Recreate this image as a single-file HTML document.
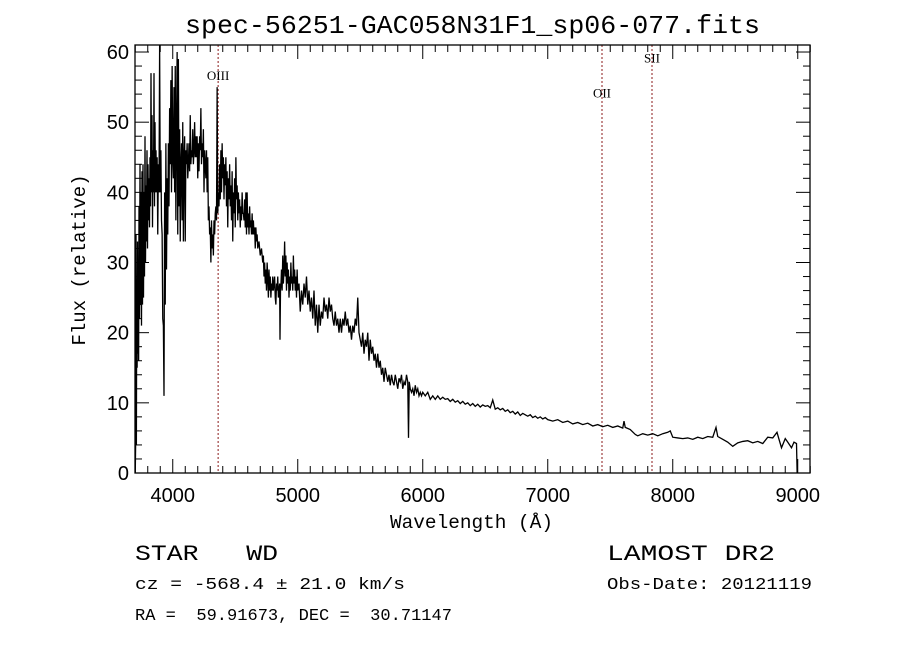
<!DOCTYPE html>
<html><head><meta charset="utf-8"><style>
body{margin:0;background:#fff}
svg{display:block}
text{white-space:pre}
.t{font-family:"Liberation Mono",monospace;fill:#000}
.s{font-family:"Liberation Sans",sans-serif;fill:#000}
.r{font-family:"Liberation Serif",serif;fill:#000}
</style></head><body>
<svg id="chart" width="900" height="649" xmlns="http://www.w3.org/2000/svg" xml:space="preserve">
<rect width="900" height="649" fill="#fff"/>
<text class="t" x="185" y="33" font-size="26" textLength="575" lengthAdjust="spacingAndGlyphs">spec-56251-GAC058N31F1_sp06-077.fits</text>
<g id="lines"></g>
<g id="axes"></g>
<path id="spec" fill="none" stroke="#000" stroke-width="1.3"/>
<rect x="135" y="45" width="675" height="428" fill="none" stroke="#000" stroke-width="1.3"/>
<text class="t" x="390" y="528" font-size="19" textLength="163" lengthAdjust="spacingAndGlyphs">Wavelength (Å)</text>
<text class="t" transform="translate(85,260) rotate(-90)" font-size="19" text-anchor="middle">Flux (relative)</text>
<text class="t" x="135" y="560" font-size="22" textLength="143" lengthAdjust="spacingAndGlyphs">STAR   WD</text>
<text class="t" x="607" y="560" font-size="22" textLength="168" lengthAdjust="spacingAndGlyphs">LAMOST DR2</text>
<text class="t" x="135" y="589" font-size="17" textLength="270" lengthAdjust="spacingAndGlyphs">cz = -568.4 ± 21.0 km/s</text>
<text class="t" x="607" y="589" font-size="17" textLength="205" lengthAdjust="spacingAndGlyphs">Obs-Date: 20121119</text>
<text class="t" x="135" y="620" font-size="17" textLength="317" lengthAdjust="spacingAndGlyphs">RA =  59.91673, DEC =  30.71147</text>
</svg>
<script>
const waves=[3700,3703,3706,3709,3712,3715,3718,3721,3724,3727,3730,3734,3738,3742,3746,3750,3754,3758,3762,3766,3770,3774,3778,3782,3786,3790,3794,3798,3802,3806,3810,3814,3818,3822,3826,3830,3834,3838,3842,3846,3850,3854,3858,3862,3866,3870,3875,3880,3885,3890,3895,3900,3905,3910,3915,3920,3925,3930,3935,3940,3945,3950,3955,3960,3965,3970,3975,3980,3985,3990,3995,4000,4005,4010,4015,4020,4025,4030,4035,4040,4045,4050,4055,4060,4065,4070,4075,4080,4085,4090,4095,4100,4105,4110,4115,4120,4125,4130,4135,4140,4145,4150,4155,4160,4165,4170,4175,4180,4185,4190,4195,4200,4205,4210,4215,4220,4225,4230,4235,4240,4245,4250,4255,4260,4265,4270,4275,4280,4285,4290,4295,4300,4305,4310,4315,4320,4325,4330,4335,4340,4345,4350,4355,4360,4365,4370,4375,4380,4385,4390,4395,4400,4405,4410,4415,4420,4425,4430,4435,4440,4445,4450,4455,4460,4465,4470,4475,4480,4485,4490,4495,4500,4505,4510,4515,4520,4525,4530,4535,4540,4545,4550,4555,4560,4565,4570,4575,4580,4585,4590,4595,4600,4605,4610,4615,4620,4625,4630,4635,4640,4645,4650,4655,4660,4665,4670,4675,4680,4690,4700,4710,4720,4725,4730,4735,4740,4745,4750,4755,4760,4765,4770,4775,4780,4785,4790,4795,4800,4805,4810,4815,4820,4825,4830,4835,4840,4845,4850,4855,4858,4862,4866,4870,4875,4880,4885,4890,4895,4900,4905,4910,4915,4920,4925,4930,4935,4940,4945,4950,4955,4960,4965,4970,4975,4980,4985,4990,4995,5000,5010,5020,5030,5040,5050,5060,5070,5080,5090,5100,5110,5120,5130,5140,5150,5160,5170,5180,5190,5200,5210,5220,5230,5240,5250,5260,5270,5280,5290,5300,5310,5320,5330,5340,5350,5360,5370,5380,5390,5400,5410,5420,5430,5440,5450,5460,5470,5480,5490,5500,5510,5520,5530,5540,5550,5560,5570,5580,5590,5600,5610,5620,5630,5640,5650,5660,5670,5680,5690,5700,5710,5720,5730,5740,5750,5760,5770,5780,5790,5800,5810,5820,5830,5840,5850,5860,5870,5880,5886,5892,5900,5910,5920,5930,5940,5950,5960,5970,5980,5990,6000,6020,6040,6060,6080,6100,6120,6140,6160,6180,6200,6220,6240,6260,6280,6300,6320,6340,6360,6380,6400,6420,6440,6460,6480,6500,6520,6540,6560,6580,6600,6620,6640,6660,6680,6700,6720,6740,6760,6780,6800,6820,6840,6860,6880,6900,6920,6940,6960,6980,7000,7040,7080,7120,7160,7200,7240,7280,7320,7360,7400,7440,7480,7520,7560,7600,7610,7620,7660,7700,7720,7760,7800,7840,7880,7920,7960,7980,8000,8040,8080,8120,8160,8200,8240,8280,8320,8346,8360,8400,8440,8480,8520,8560,8600,8640,8680,8720,8760,8800,8834,8850,8870,8900,8920,8950,8970,8990,8995];
const flux=[0,4,34,4,27,15,33,17,26,16,38,22,44,24,40,21,43,24,44,25,40,28,48,30,41,33,46,32,44,36,42,35,45,38,57,40,51,35,46,40,57,38,50,40,46,40,45,34,44,40,61,40,46,36,34,22,21,11,40,24,47,29,42,34,47,38,52,44,56,40,58,45,42,55,40,58,36,49,60,34,59,38,49,33,44,47,36,50,33,45,48,33,46,44,47,42,44,47,43,51,44,46,45,49,44,46,50,45,48,45,48,42,47,43,48,46,52,44,47,45,49,40,46,44,42,46,40,45,36,38,34,35,30,36,32,34,31,36,34,37,38,36,55,37,40,38,44,39,46,40,47,42,45,39,44,41,45,38,43,35,42,39,44,38,41,36,43,33,40,37,42,35,45,39,41,36,40,37,39,35,38,36,40,37,37,36,39,35,40,34,40,35,37,34,38,35,36,34,37,34,36,34,35,32,35,33,34,32,33,31,32,30,31,28,30,27,29,26,30,28,25,29,26,28,25,27,26,28,26,27,28,25,24,27,26,28,25,26,27,19,26,27,29,26,31,27,29,33,28,31,26,30,27,29,25,28,26,30,27,28,26,31,27,29,26,28,25,29,26,27,23,26,24,27,25,28,24,26,23,25,22,26,21,24,20,24,21,23,22,25,23,24,22,25,23,24,22,21,23,21,22,20,22,20,22,21,23,21,22,20,21,19,21,20,22,21,25,20,19,18,20,17,19,18,20,16,19,17,18,16,17,15,17,15,16,14,15,13,15,14,13,14,12.5,14,13,12.5,14,13,12,13.5,13,14,12,13,12.5,14,13,5,13,12,11.5,12,11,12.5,11.5,12,11,11.5,11,11.5,11,11.5,10.5,11,10.5,11,10.5,10.8,10.5,10.6,10.2,10.5,10.1,10.3,9.9,10.2,9.8,10,9.6,9.9,9.5,9.8,9.4,9.7,9.5,9.6,9.3,10.4,9.1,9.3,9,9.2,8.8,9,8.6,8.8,8.4,8.7,8.2,8.5,8.3,8.1,8.3,7.9,8.1,7.8,8,7.7,7.9,7.6,7.4,7.6,7.2,7.4,7,7.2,6.9,7.1,6.7,6.9,6.6,6.8,6.5,6.7,6.4,7.4,6.5,6.2,5.5,5.3,5.6,5.4,5.6,5.3,5.6,5.8,6,5.1,5,4.9,5,4.8,5.1,4.9,5.2,5.1,6.5,5.2,4.8,4.4,3.8,4.3,4.5,4.6,4.3,4.5,4.2,5.1,5,5.8,4.8,3.6,4.9,4.4,3.6,4.4,4.2,0];
const xTicks=[4000,5000,6000,7000,8000,9000];
const yTicks=[0,10,20,30,40,50,60];
const lineNames=["OIII","OII","SII"];
const lineWaves=[4363,7434,7834];
const lineLabelFlux=[56,53.5,58.5];
const X0=135,X1=810,Y0=473,Y1=45,WMIN=3698,WMAX=9098,FMIN=0,FMAX=61;
const xs=w=>X0+(w-WMIN)/(WMAX-WMIN)*(X1-X0);
const ys=f=>Y0-(f-FMIN)/(FMAX-FMIN)*(Y0-Y1);
const NS="http://www.w3.org/2000/svg";
function mk(tag,parent){const e=document.createElementNS(NS,tag);parent.appendChild(e);return e;}
let d="";
for(let i=0;i<waves.length;i++){d+=(i?"L":"M")+xs(waves[i]).toFixed(2)+","+ys(Math.min(flux[i],FMAX)).toFixed(2);}
document.getElementById("spec").setAttribute("d",d);
const ax=document.getElementById("axes");
for(let w=3700;w<=9100;w+=100){
  const major=w%1000===0;const len=major?14:7;const x=xs(w);
  const t=mk("line",ax);
  
  
  t.setAttribute("x1",x);t.setAttribute("x2",x);t.setAttribute("y1",Y0);t.setAttribute("y2",Y0-len);t.setAttribute("stroke","#000");
  const t2=mk("line",ax);
  
  
  t2.setAttribute("x1",x);t2.setAttribute("x2",x);t2.setAttribute("y1",Y1);t2.setAttribute("y2",Y1+len);t2.setAttribute("stroke","#000");
}
xTicks.forEach(w=>{
  const l=mk("text",ax);
  
  
  l.setAttribute("class","s");l.setAttribute("x",xs(w));l.setAttribute("y",Y0+29);l.setAttribute("font-size","20");l.setAttribute("text-anchor","middle");l.textContent=w;
});
for(let f=0;f<=60;f+=2){
  const major=f%10===0;const len=major?14:7;const y=ys(f);
  const t=mk("line",ax);
  
  
  t.setAttribute("x1",X0);t.setAttribute("x2",X0+len);t.setAttribute("y1",y);t.setAttribute("y2",y);t.setAttribute("stroke","#000");
  const t2=mk("line",ax);
  
  
  t2.setAttribute("x1",X1);t2.setAttribute("x2",X1-len);t2.setAttribute("y1",y);t2.setAttribute("y2",y);t2.setAttribute("stroke","#000");
}
yTicks.forEach(f=>{
  const l=mk("text",ax);
  
  
  l.setAttribute("class","s");l.setAttribute("x",X0-6);l.setAttribute("y",ys(f)+7);l.setAttribute("font-size","20");l.setAttribute("text-anchor","end");l.textContent=f;
});
const lg=document.getElementById("lines");
lineWaves.forEach((w,i)=>{
  const x=xs(w);
  const l=mk("line",lg);
  
  
  l.setAttribute("x1",x);l.setAttribute("x2",x);l.setAttribute("y1",Y1);l.setAttribute("y2",Y0);l.setAttribute("stroke","#8b1a1a");l.setAttribute("stroke-dasharray","2,2");
  const t=mk("text",lg);
  
  
  t.setAttribute("class","r");t.setAttribute("x",x);t.setAttribute("y",ys(lineLabelFlux[i]));t.setAttribute("font-size","13");t.setAttribute("text-anchor","middle");t.textContent=lineNames[i];
});
</script>
</body></html>
